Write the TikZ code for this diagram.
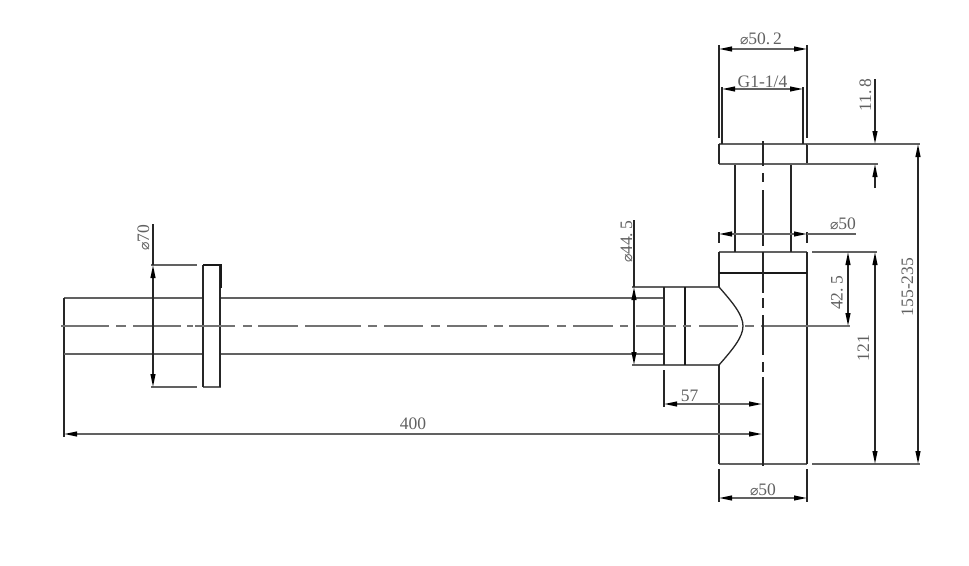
\documentclass[tikz,border=0pt]{standalone}
\usepackage{fontspec}
\setmainfont{Liberation Serif}
\newfontfamily\symfont{DejaVu Sans}
\usetikzlibrary{arrows.meta}
\newcommand{\dia}{{\symfont\fontsize{14}{14}\selectfont ⌀}}
\tikzset{
  tip/.tip={Stealth[inset=0pt,length=13pt,width=4.8pt,color=black,fill=black]},
  part/.style={draw=black!62,line width=1.5pt},
  vpart/.style={draw=black!85,line width=1.5pt},
  heavy/.style={draw=black!90,line width=2.6pt},
  leader/.style={draw=black!62,line width=1.5pt},
  vleader/.style={draw=black!85,line width=1.5pt},
  dim/.style={draw=black!62,line width=1.5pt,tip-tip},
  vdim/.style={draw=black!85,line width=1.5pt,tip-tip},
  vdimend/.style={draw=black!85,line width=1.5pt,-tip},
  centre/.style={draw=black!55,line width=1.5pt},
  axis/.style={draw=black!85,line width=1.5pt},
  label/.style={text=black!62,inner sep=0pt,anchor=base,font=\fontsize{17.5}{18}\selectfont}
}
\begin{document}
\begin{tikzpicture}[x=1pt,y=-1pt]
\useasboundingbox (0,0) rectangle (969,565);
\fill[white] (0,0) rectangle (969,565);
% main pipe
\draw[part] (203,298) -- (64,298);
\draw[vpart] (64,298) -- (64,437);
\draw[part] (64,354) -- (203,354);
\draw[part] (221,298) -- (664,298);
\draw[part] (221,354) -- (664,354);
% wall flange
\draw[part] (203,387) -- (221,387);
\draw[vpart] (203,265) -- (203,387);
\draw[vpart] (220,265) -- (220,387);
\draw[heavy] (203,265) -- (221,265) -- (221,288);
% elbow
\draw[part] (632,287) -- (719,287);
\draw[part] (632,365) -- (719,365);
\draw[vpart] (664,287) -- (664,365);
\draw[heavy,line width=2pt] (685,287) -- (685,365);
\draw[vpart,line width=1.3pt] (719,287) .. controls (733,303) and (743,315) .. (743,326) .. controls (743,337) and (733,349) .. (719,365);
% bottle body
\draw[part] (719,252) -- (807,252);
\draw[part] (719,464) -- (807,464);
\draw[vpart] (719,252) -- (719,287);
\draw[vpart] (719,365) -- (719,464);
\draw[vpart] (807,252) -- (807,464);
\draw[heavy] (719,273) -- (807,273);
% neck and top flange
\draw[vpart] (735,164) -- (735,252);
\draw[vpart] (791,164) -- (791,252);
\draw[part] (719,144) -- (807,144);
\draw[part] (719,164) -- (807,164);
\draw[vpart] (719,144) -- (719,164);
\draw[vpart] (807,144) -- (807,164);
% horizontal centre line
\foreach \a/\b in {61/109,116/126,133/181,187/193,195/235,243/252,258/298,305/361,368/377,384/423,431/440,447/487,494/503,509/549,557/566,573/613,620/628,636/676,683/691,699/738,745/754,761/850}
  \draw[centre] (\a,326) -- (\b,326);
% vertical centre line
\foreach \a/\b in {141/166,173/182,190/246,252/293,298/308,315/355,362/372,377/402}
  \draw[axis] (763,\a) -- (763,\b);
\draw[vpart] (763,402) -- (763,466);
% extension lines
\draw[vleader] (719,45) -- (719,138);
\draw[vleader] (807,45) -- (807,138);
\draw[vleader] (722,87) -- (722,144);
\draw[vleader] (803,87) -- (803,144);
\draw[leader] (807,144) -- (920,144);
\draw[leader] (800,164) -- (878,164);
\draw[vleader] (719,232) -- (719,243);
\draw[vleader] (807,232) -- (807,243);
\draw[leader] (812,252) -- (877,252);
\draw[leader] (812,464) -- (920,464);
\draw[vleader] (719,469) -- (719,502);
\draw[vleader] (807,469) -- (807,502);
\draw[vleader] (664,370) -- (664,407);
\draw[leader] (151,265) -- (197,265);
\draw[leader] (151,387) -- (197,387);
% dimensions
\draw[dim] (719,49) -- (807,49);
\draw[dim] (722,89) -- (803,89);
\draw[dim] (719,234) -- (807,234);
\draw[leader] (807,234) -- (856,234);
\draw[dim] (719,498) -- (807,498);
\draw[vdimend] (875,79) -- (875,144);
\draw[vdimend] (875,188) -- (875,164);
\draw[vdim] (918,144) -- (918,464);
\draw[vdim] (875,252) -- (875,464);
\draw[vdim] (848,252) -- (848,326);
\draw[dim] (664,404) -- (762,404);
\draw[dim] (64,434) -- (762,434);
\draw[vdim] (634,287) -- (634,365);
\draw[vleader] (634,220) -- (634,287);
\draw[vdim] (153,265) -- (153,387);
\draw[vleader] (153,224) -- (153,265);
% labels
\node[label] (d502) at (761,44) {\dia50.\,2};
\node[label] (g114) at (762.5,87) {G1-1/4};
\node[label] (d50a) at (843,229) {\dia50};
\node[label] (d50b) at (763,495) {\dia50};
\node[label] (d57) at (689.5,401) {57};
\node[label] (d400) at (413,429.5) {400};
\node[label,rotate=90] (d118) at (871,95) {11.\,8};
\node[label,rotate=90] (d235) at (913,287) {155-235};
\node[label,rotate=90] (d425) at (842.5,293) {42.\,5};
\node[label,rotate=90] (d121) at (869,348) {121};
\node[label,rotate=90] (d445) at (632,242) {\dia44.\,5};
\node[label,rotate=90] (d70) at (149,238) {\dia70};
\end{tikzpicture}
\end{document}
